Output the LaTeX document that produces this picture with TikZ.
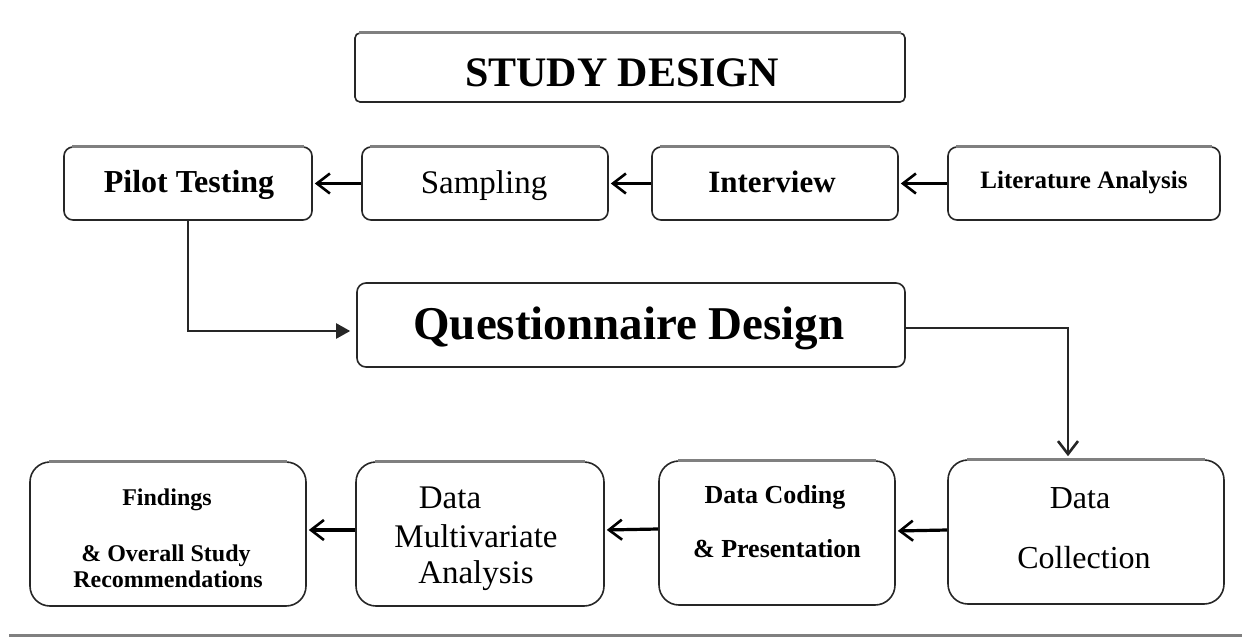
\documentclass[tikz,border=0pt]{standalone}
\usepackage{fontspec}
\setmainfont{Liberation Serif}
\usetikzlibrary{arrows.meta}
\begin{document}
\begin{tikzpicture}[x=1pt,y=-1pt,
  box/.style={draw=black!85, line width=1.6pt, rectangle, inner sep=0pt, fill=white},
  topedge/.style={draw=black!50, line width=2.6pt},
  barb/.style={draw=black, line width=2.6pt, -{Straight Barb[length=13pt,width=20pt,line width=2.6pt]}},
  elbow/.style={draw=black!85, line width=2.2pt},
  txt/.style={inner sep=0pt, anchor=base},
]
\useasboundingbox (0,0) rectangle (1242,637);
% boxes
\node[box, rounded corners=5pt, minimum width=550pt, minimum height=69pt] (study) at (630,67.5) {};
\node[box, rounded corners=9pt, minimum width=248pt, minimum height=73pt] (pilot) at (188,183.5) {};
\node[box, rounded corners=9pt, minimum width=246pt, minimum height=73pt] (sampling) at (485,183.5) {};
\node[box, rounded corners=9pt, minimum width=246pt, minimum height=73pt] (interview) at (775,183.5) {};
\node[box, rounded corners=9pt, minimum width=272pt, minimum height=73pt] (lit) at (1084,183.5) {};
\node[box, rounded corners=9pt, minimum width=548pt, minimum height=84pt] (quest) at (631,325) {};
\node[box, rounded corners=20pt, minimum width=276pt, minimum height=144pt] (findings) at (168,534) {};
\node[box, rounded corners=20pt, minimum width=248pt, minimum height=144pt] (dma) at (480,534) {};
\node[box, rounded corners=20pt, minimum width=236pt, minimum height=144pt] (coding) at (777,533) {};
\node[box, rounded corners=20pt, minimum width=276pt, minimum height=144pt] (collection) at (1086,532) {};
% lighter top edges
\foreach \n/\r in {study/5,pilot/9,sampling/9,interview/9,lit/9,findings/20,dma/20,coding/20,collection/20}
  \draw[topedge] ([xshift=\r pt]\n.north west) -- ([xshift=-\r pt]\n.north east);
% texts
\node[txt, font=\fontsize{42}{48}\selectfont\bfseries] (study-t) at (622,86) {STUDY DESIGN};
\node[txt, font=\fontsize{32}{38}\selectfont\bfseries] (pilot-t) at (189,192.5) {Pilot Testing};
\node[txt, font=\fontsize{33}{38}\selectfont] (sampling-t) at (484,193) {Sampling};
\node[txt, font=\fontsize{31}{38}\selectfont\bfseries] (interview-t) at (772,192) {Interview};
\node[txt, font=\fontsize{25}{30}\selectfont\bfseries] (lit-t) at (1084,188) {Literature Analysis};
\node[txt, font=\fontsize{47}{54}\selectfont\bfseries] (quest-t) at (629,339) {Questionnaire Design};
\node[txt, font=\fontsize{24}{30}\selectfont\bfseries] (findings-t1) at (167,505) {Findings};
\node[txt, font=\fontsize{24}{30}\selectfont\bfseries] (findings-t2) at (166,561) {\& Overall Study};
\node[txt, font=\fontsize{24}{30}\selectfont\bfseries] (findings-t3) at (168,587) {Recommendations};
\node[txt, font=\fontsize{33}{38}\selectfont] (dma-t1) at (450,508) {Data};
\node[txt, font=\fontsize{33}{38}\selectfont] (dma-t2) at (476,547) {Multivariate};
\node[txt, font=\fontsize{33}{38}\selectfont] (dma-t3) at (476,583) {Analysis};
\node[txt, font=\fontsize{26}{30}\selectfont\bfseries] (coding-t1) at (775,503) {Data Coding};
\node[txt, font=\fontsize{26}{30}\selectfont\bfseries] (coding-t2) at (777,557) {\& Presentation};
\node[txt, font=\fontsize{32}{38}\selectfont] (collection-t1) at (1080,508) {Data};
\node[txt, font=\fontsize{32}{38}\selectfont] (collection-t2) at (1084,568) {Collection};
% connectors top row
\draw[barb, shorten >=2pt] (sampling.west) -- (pilot.east);
\draw[barb, shorten >=2pt] (interview.west) -- (sampling.east);
\draw[barb, shorten >=2pt] (lit.west) -- (interview.east);
% elbows
\draw[elbow, -{Triangle[length=14pt,width=15pt]}, shorten >=6pt] (pilot.south) |- ([yshift=-6pt]quest.west);
\draw[elbow, line width=2.8pt, -{Straight Barb[length=13pt,width=20pt,line width=2.6pt]}, shorten >=3pt] ([yshift=-3pt]quest.east) -| ([xshift=-18pt]collection.north);
% bottom row
\draw[barb, line width=3.2pt, shorten >=2pt] ([yshift=2pt]collection.west) -- ([yshift=2pt]coding.east);
\draw[barb, line width=3.2pt, shorten >=2pt] ([yshift=4pt]coding.west) -- ([yshift=4pt]dma.east);
\draw[barb, line width=3.2pt, shorten >=2pt] ([yshift=4pt]dma.west) -- ([yshift=4pt]findings.east);
% bottom rule
\draw[draw=black!50, line width=3pt] (9,635.5) -- (1242,635.5);
\end{tikzpicture}
\end{document}
